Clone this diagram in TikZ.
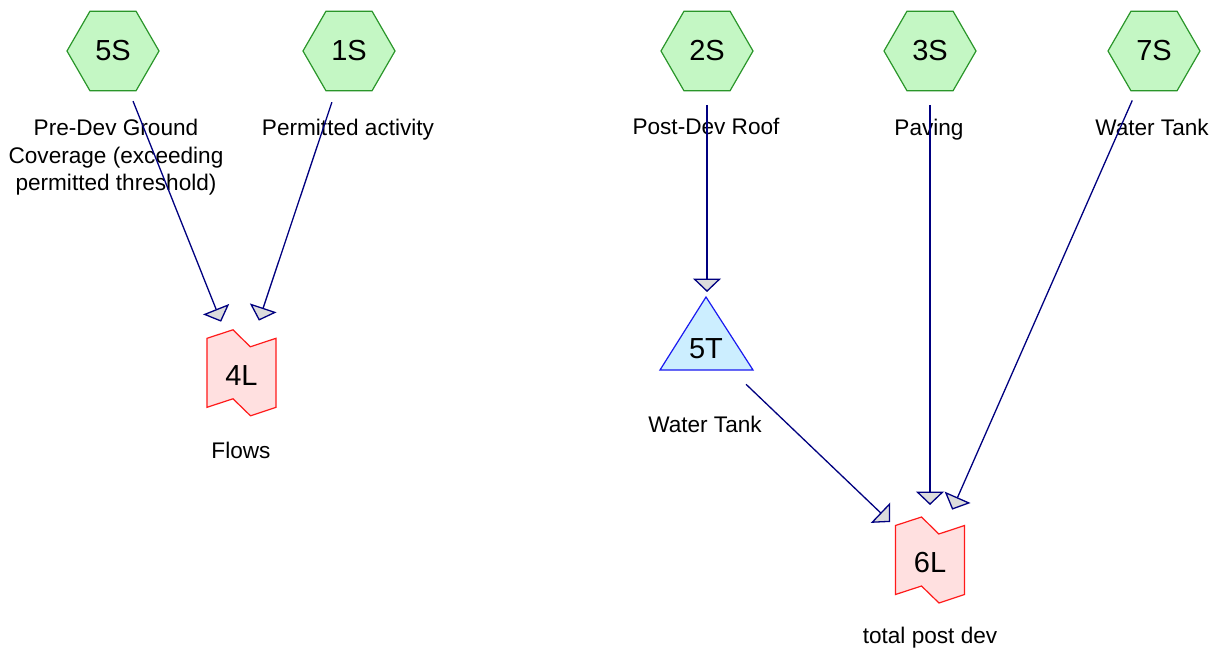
\documentclass[tikz,border=0pt]{standalone}
\usepackage{fontspec}
\setmainfont{Liberation Sans}
\usetikzlibrary{arrows.meta,shapes.geometric,calc}
\definecolor{hexfill}{HTML}{C4F7C4}
\definecolor{hexdraw}{HTML}{2A962A}
\definecolor{lfill}{HTML}{FFE0E0}
\definecolor{ldraw}{HTML}{FF1A1A}
\definecolor{tfill}{HTML}{CCEEFF}
\definecolor{tdraw}{HTML}{1A1AF0}
\definecolor{conn}{HTML}{000080}
\definecolor{tipfill}{HTML}{DCDCDC}
\begin{document}
\begin{tikzpicture}[x=1pt,y=-1pt,
 hexnode/.style={regular polygon, regular polygon sides=6, minimum size=92pt, inner sep=0pt, draw=hexdraw, fill=hexfill, line width=1.2pt, font=\fontsize{29}{30}\selectfont},
 lbl/.style={anchor=base, align=center, inner sep=0pt, font=\fontsize{22.6}{27.5}\selectfont},
 idtext/.style={font=\fontsize{29}{30}\selectfont, inner sep=0pt},
 link/.style={draw=conn, line width=1.3pt, shorten <=54pt, shorten >=55pt, -{Triangle[length=13.5pt,width=28pt,fill=tipfill,line join=miter]}},
 lshape/.style={draw=ldraw, fill=lfill, line width=1.2pt, line join=miter},
 tshape/.style={draw=tdraw, fill=tfill, line width=1.2pt, line join=miter},
 pics/wavy/.style={code={\path[lshape] (-34.5,-34.5) -- (-8.5,-43) -- (8.8,-26) -- (34.5,-34.5) -- (34.5,34.5) -- (9,43) -- (-8.5,26) -- (-34.5,34.5) -- cycle;}}]
\useasboundingbox[fill=white] (0,0) rectangle (1223,655);

% sources
\node[hexnode] (n5S) at (113,51) {5S};
\node[hexnode] (n1S) at (349,51) {1S};
\node[hexnode] (n2S) at (707,51) {2S};
\node[hexnode] (n3S) at (930,51) {3S};
\node[hexnode] (n7S) at (1154,51) {7S};

% 4L
\coordinate (c4L) at (241.5,372.8);
\pic at (c4L) {wavy};
\node[idtext] (n4L) at ($(c4L)+(0,3)$) {4L};

% 6L
\coordinate (c6L) at (930,560);
\pic at (c6L) {wavy};
\node[idtext] (n6L) at ($(c6L)+(0,3)$) {6L};

% 5T
\coordinate (c5T) at (707,347);
\path[tshape] (706,297) -- (753,370) -- (660,370) -- cycle;
\node[idtext] (n5T) at (706,348.7) {5T};

% labels
\node[lbl] (l5S) at (116,191) {Pre-Dev Ground\\Coverage (exceeding\\permitted threshold)};
\node[lbl] (l1S) at (348,136) {Permitted activity};
\node[lbl] (l2S) at (706,135) {Post-Dev Roof};
\node[lbl] (l3S) at (929,136) {Paving};
\node[lbl] (l7S) at (1152,136) {Water Tank};
\node[lbl] (l4L) at (241,458) {Flows};
\node[lbl] (l5T) at (705,432) {Water Tank};
\node[lbl] (l6L) at (930,643) {total post dev};

% links
\draw[link] (n5S.center) -- (c4L);
\draw[link] (n1S.center) -- (c4L);
\draw[link] (n2S.center) -- (c5T);
\draw[link] (c5T) -- (c6L);
\draw[link] (n3S.center) -- (c6L);
\draw[link] (n7S.center) -- (c6L);
\end{tikzpicture}
\end{document}
